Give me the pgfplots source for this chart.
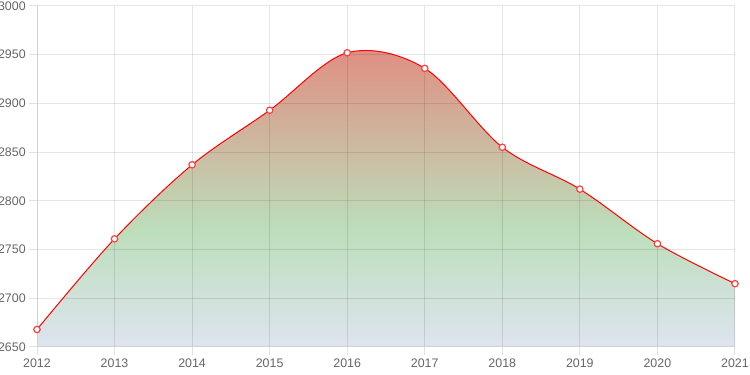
\documentclass[border=0pt]{standalone}
\usepackage{pgfplots}
\pgfplotsset{compat=1.18}
\usepackage{fontspec}
\setmainfont{Liberation Sans}
\definecolor{topc}{RGB}{224,142,130}
\definecolor{midc}{RGB}{188,222,186}
\definecolor{botc}{RGB}{222,228,240}
\definecolor{lblc}{RGB}{102,102,102}
\pgfdeclareverticalshading{areashade}{100bp}{color(0bp)=(botc); color(25bp)=(botc); color(44.5bp)=(midc); color(75bp)=(topc); color(100bp)=(topc)}
\begin{document}
\begin{tikzpicture}
\begin{axis}[
  at={(27.75pt,21pt)}, anchor=south west,
  scale only axis, width=523.5pt, height=255.75pt,
  set layers,
  axis lines=left,
  xmin=2012, xmax=2021, ymin=2650, ymax=3000,
  xtick={2012,...,2021}, ytick={2650,2700,...,3000},
  xticklabels={2012,2013,2014,2015,2016,2017,2018,2019,2020,2021},
  yticklabel style={/pgf/number format/1000 sep={}},
  /pgf/number format/assume math mode=true,
  grid=major,
  grid style={black, opacity=0.1, line width=0.75pt},
  axis line style={-, draw=black!18, line width=0.75pt},
  tick align=outside, major tick length=6pt,
  tick style={draw=black!12, line width=0.75pt},
  tick label style={font=\fontsize{9.3}{10}\selectfont, text=lblc},
  xticklabel style={yshift=1pt},
  yticklabel style={xshift=1pt},
  clip=false,
]
\addplot[on layer=axis background, draw=none, shading=areashade, smooth, tension=0.55] coordinates {
(2012,2668) (2013,2761) (2014,2837) (2015,2893) (2016,2952) (2017,2936) (2018,2855) (2019,2812) (2020,2756) (2021,2715)
} \closedcycle;
\addplot[red, line width=0.75pt, smooth, tension=0.55, mark=*, mark size=2.4pt, mark options={fill=white, draw=red!75, line width=0.9pt}] coordinates {
(2012,2668) (2013,2761) (2014,2837) (2015,2893) (2016,2952) (2017,2936) (2018,2855) (2019,2812) (2020,2756) (2021,2715)
};
\end{axis}
\pgfresetboundingbox
\useasboundingbox (0,0) rectangle (562.5pt,281.25pt);
\end{tikzpicture}
\end{document}
